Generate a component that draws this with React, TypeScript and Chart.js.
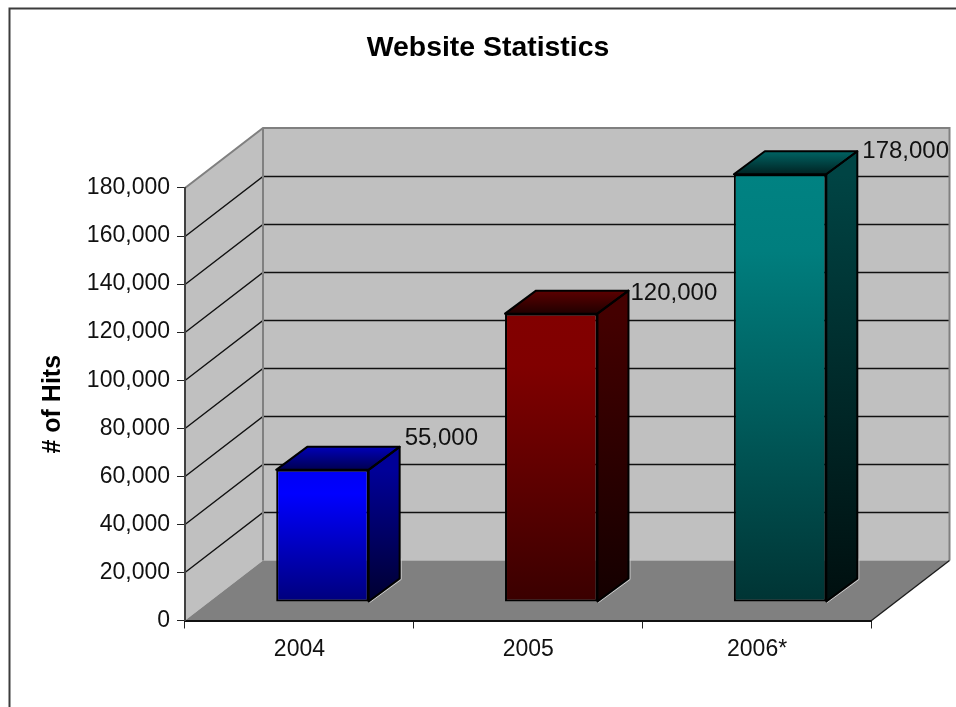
import React, { useEffect, useRef } from "react";
import { Chart, registerables } from "chart.js";

Chart.register(...registerables);

const categories = ["2004", "2005", "2006*"];
const hits = [55000, 120000, 178000];
const chartTitle = "Website Statistics";
const axisTitle = "# of Hits";

const frontTop = ["#0000f4", "#820000", "#008282"];
const frontBright = ["#0000ff", "#800000", "#007e7e"];
const frontBottom = ["#00007c", "#3a0000", "#003434"];
const sideTop = ["#000098", "#440000", "#004444"];
const sideBottom = ["#000030", "#140000", "#000f0f"];
const lidBack = ["#0000b8", "#5c0000", "#006464"];
const lidFront = ["#000050", "#200000", "#002222"];

const labelShift = [
  [5, -8],
  [2, 3],
  [5, 0],
];

const FONT = "'Liberation Sans', Arial, sans-serif";
const WALL_DX = 78;
const WALL_DY = -60;
const BAR_DX = 23;
const BAR_DY = -18.5;
const LID_DX = 31;
const LID_DY = -23;

function poly(ctx: CanvasRenderingContext2D, pts: number[][]) {
  ctx.beginPath();
  pts.forEach((p, i) => (i ? ctx.lineTo(p[0], p[1]) : ctx.moveTo(p[0], p[1])));
  ctx.closePath();
}

const stage3d = {
  id: "stage3d",
  beforeDraw(chart: any) {
    const { ctx, chartArea: a, scales } = chart;
    ctx.save();
    ctx.fillStyle = "#ffffff";
    ctx.fillRect(0, 0, chart.width, chart.height);
    ctx.strokeStyle = "#3c3c3c";
    ctx.lineWidth = 2;
    ctx.strokeRect(9.5, 8.5, chart.width + 20, chart.height + 20);

    const side = [
      [a.left, a.top],
      [a.left + WALL_DX, a.top + WALL_DY],
      [a.left + WALL_DX, a.bottom + WALL_DY],
      [a.left, a.bottom],
    ];
    const back = [
      [a.left + WALL_DX, a.top + WALL_DY],
      [a.right + WALL_DX, a.top + WALL_DY],
      [a.right + WALL_DX, a.bottom + WALL_DY],
      [a.left + WALL_DX, a.bottom + WALL_DY],
    ];
    const floor = [
      [a.left, a.bottom],
      [a.left + WALL_DX, a.bottom + WALL_DY],
      [a.right + WALL_DX, a.bottom + WALL_DY],
      [a.right, a.bottom],
    ];
    ctx.fillStyle = "#c0c0c0";
    poly(ctx, side);
    ctx.fill();
    poly(ctx, back);
    ctx.fill();
    ctx.fillStyle = "#808080";
    poly(ctx, floor);
    ctx.fill();

    ctx.strokeStyle = "#111111";
    ctx.lineWidth = 1.4;
    scales.y.ticks.forEach((t: any) => {
      if (t.value <= 0 || t.value >= scales.y.max) return;
      const y = Math.round(scales.y.getPixelForValue(t.value)) + 0.5;
      ctx.beginPath();
      ctx.moveTo(a.left, y);
      ctx.lineTo(a.left + WALL_DX, y + WALL_DY);
      ctx.lineTo(a.right + WALL_DX, y + WALL_DY);
      ctx.stroke();
    });

    ctx.strokeStyle = "#808080";
    ctx.lineWidth = 2;
    ctx.beginPath();
    ctx.moveTo(a.left, a.top);
    ctx.lineTo(a.left + WALL_DX, a.top + WALL_DY);
    ctx.lineTo(a.right + WALL_DX, a.top + WALL_DY);
    ctx.lineTo(a.right + WALL_DX, a.bottom + WALL_DY);
    ctx.moveTo(a.left + WALL_DX, a.top + WALL_DY);
    ctx.lineTo(a.left + WALL_DX, a.bottom + WALL_DY);
    ctx.stroke();

    ctx.strokeStyle = "#1c1c1c";
    ctx.lineWidth = 1.4;
    ctx.beginPath();
    ctx.moveTo(a.right, a.bottom);
    ctx.lineTo(a.right + WALL_DX, a.bottom + WALL_DY);
    ctx.stroke();
    ctx.restore();
  },
  beforeDatasetsDraw(chart: any) {
    const { ctx } = chart;
    ctx.save();
    ctx.translate(BAR_DX, BAR_DY);
    const bars = chart.getDatasetMeta(0).data;
    bars.forEach((bar: any, i: number) => {
      const xl = bar.x - bar.width / 2;
      const xr = bar.x + bar.width / 2;
      const top = bar.y;
      const base = bar.base;

      const sg = ctx.createLinearGradient(0, top, 0, base);
      sg.addColorStop(0, sideTop[i]);
      sg.addColorStop(1, sideBottom[i]);
      const sidePts = [
        [xr, top],
        [xr + LID_DX, top + LID_DY],
        [xr + LID_DX, base + LID_DY],
        [xr, base],
      ];
      ctx.fillStyle = sg;
      poly(ctx, sidePts);
      ctx.fill();

      const lg = ctx.createLinearGradient(0, top + LID_DY, 0, top);
      lg.addColorStop(0, lidBack[i]);
      lg.addColorStop(1, lidFront[i]);
      const lidPts = [
        [xl, top],
        [xl + LID_DX, top + LID_DY],
        [xr + LID_DX, top + LID_DY],
        [xr, top],
      ];
      ctx.fillStyle = lg;
      poly(ctx, lidPts);
      ctx.fill();

      ctx.strokeStyle = "#d0d0d0";
      ctx.lineWidth = 1;
      ctx.beginPath();
      ctx.moveTo(xr + 1, base + 1);
      ctx.lineTo(xr + LID_DX + 1.5, base + LID_DY + 1);
      ctx.lineTo(xr + LID_DX + 1.5, base + LID_DY - 20);
      ctx.stroke();

      ctx.strokeStyle = "#000000";
      ctx.lineWidth = 2;
      ctx.lineJoin = "round";
      poly(ctx, sidePts);
      ctx.stroke();
      poly(ctx, lidPts);
      ctx.stroke();
    });
  },
  afterDatasetsDraw(chart: any) {
    const { ctx } = chart;
    ctx.restore();
    ctx.save();
    ctx.font = `24px ${FONT}`;
    ctx.fillStyle = "#111111";
    ctx.textAlign = "left";
    ctx.textBaseline = "middle";
    chart.getDatasetMeta(0).data.forEach((bar: any, i: number) => {
      const x = bar.x + bar.width / 2 + BAR_DX + LID_DX + labelShift[i][0];
      const y = bar.y + BAR_DY + LID_DY + labelShift[i][1];
      ctx.fillText(hits[i].toLocaleString("en-US"), x, y);
    });
    ctx.restore();
  },
};

function frontGradient(c: any) {
  const i = c.dataIndex;
  const { chart } = c;
  if (i === undefined || !chart.chartArea) return frontTop[0];
  const y = chart.scales.y;
  const top = y.getPixelForValue(hits[i]);
  const base = y.getPixelForValue(0);
  const g = chart.ctx.createLinearGradient(0, top, 0, base);
  g.addColorStop(0, frontTop[i]);
  g.addColorStop(0.18, frontBright[i]);
  g.addColorStop(1, frontBottom[i]);
  return g;
}

export default function App() {
  const ref = useRef<HTMLCanvasElement>(null);
  useEffect(() => {
    if (!ref.current) return;
    const chart = new Chart(ref.current, {
      type: "bar",
      plugins: [stage3d],
      data: {
        labels: categories,
        datasets: [
          {
            data: hits,
            backgroundColor: frontGradient,
            borderColor: "#000000",
            borderWidth: 2,
            borderSkipped: false,
            barPercentage: 0.404,
            categoryPercentage: 1,
            clip: false,
          } as any,
        ],
      },
      options: {
        animation: false,
        responsive: false,
        devicePixelRatio: 1,
        layout: { padding: { left: 40, right: 20, top: 0, bottom: 0 } },
        plugins: {
          legend: { display: false },
          tooltip: { enabled: false },
          title: {
            display: true,
            text: chartTitle,
            color: "#000000",
            font: { family: FONT, size: 28.4, weight: "bold", lineHeight: 1.2 },
            padding: { top: 31.5, bottom: 122.4 },
          },
        },
        scales: {
          x: {
            grid: {
              drawOnChartArea: false,
              tickLength: 8,
              tickColor: "#222222",
              tickWidth: 1,
            },
            border: { color: "#111111", width: 2 },
            ticks: {
              color: "#111111",
              font: { family: FONT, size: 23 },
              padding: 7,
              maxRotation: 0,
            },
            afterFit(s: any) {
              s.height = 86.5;
            },
          },
          y: {
            min: 0,
            max: 180000,
            grid: {
              drawOnChartArea: false,
              tickLength: 8,
              tickColor: "#222222",
              tickWidth: 1,
            },
            border: { color: "#404040", width: 2 },
            ticks: {
              stepSize: 20000,
              color: "#111111",
              font: { family: FONT, size: 23 },
              padding: 7,
              callback: (v: any) => Number(v).toLocaleString("en-US"),
            },
            title: {
              display: true,
              text: axisTitle,
              color: "#000000",
              font: { family: FONT, size: 25, weight: "bold", lineHeight: 1.2 },
              padding: { top: -2, bottom: 0 },
            },
            afterFit(s: any) {
              s.width = 145;
            },
          },
          gutter: {
            axis: "y",
            position: "right",
            display: true,
            grid: { display: false, drawTicks: false },
            border: { display: false },
            ticks: { display: false },
            afterFit(s: any) {
              s.width = 64.5;
            },
          },
        },
      },
    } as any);
    return () => chart.destroy();
  }, []);
  return (
    <canvas
      ref={ref}
      width={956}
      height={707}
      style={{
        position: "fixed",
        left: 0,
        top: 0,
        width: 956,
        height: 707,
        display: "block",
        filter: "blur(0.4px)",
      }}
    />
  );
}
